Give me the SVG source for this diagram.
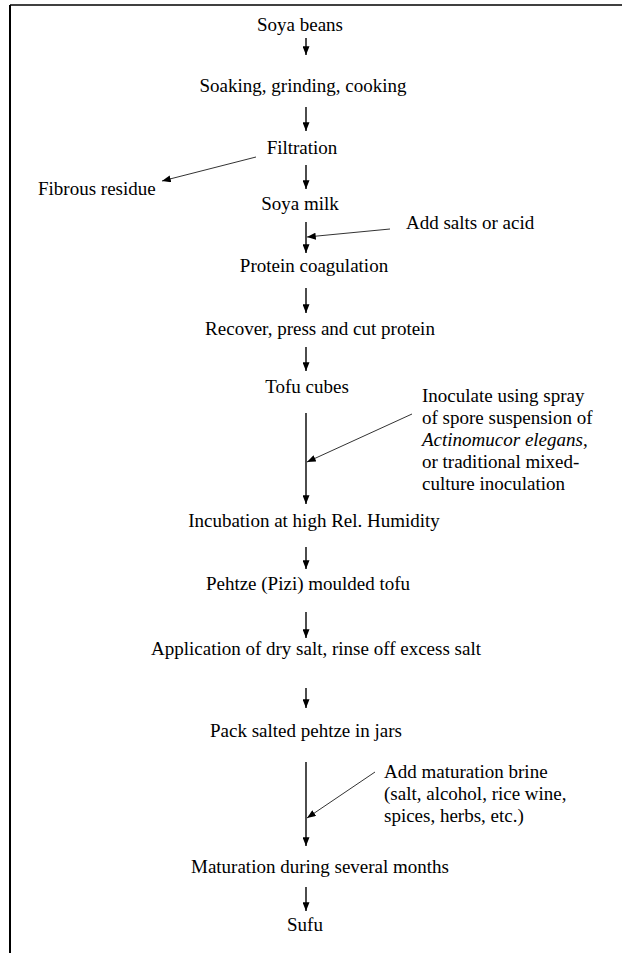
<svg xmlns="http://www.w3.org/2000/svg" width="622" height="953" viewBox="0 0 622 953">
<style>
text { font-family: "Liberation Serif", "Times New Roman", serif; font-size: 19px; fill: #000; }
.c { text-anchor: middle; }
.flow { stroke: #000; stroke-width: 1.4; fill: none; }
.side { stroke: #333; stroke-width: 1; fill: none; }
.frame { stroke: #000; fill: none; }
</style>
<defs>
<marker id="ah" markerWidth="9" markerHeight="7" viewBox="0 0 10 8" refX="10" refY="4" orient="auto" markerUnits="userSpaceOnUse">
<path d="M0,0 L10,4 L0,8 z" fill="#000"/>
</marker>
</defs>
<rect width="622" height="953" fill="#fff"/>
<g id="frame">
<line class="frame" x1="10" y1="5" x2="10" y2="953" stroke-width="2"/>
<line class="frame" x1="10" y1="5" x2="622" y2="5" stroke-width="1.5"/>
</g>
<g id="n1"><text class="c" x="300" y="31">Soya beans</text></g>
<g id="n2"><text class="c" x="303" y="92">Soaking, grinding, cooking</text></g>
<g id="n3"><text class="c" x="302" y="154">Filtration</text></g>
<g id="n4"><text x="38" y="195">Fibrous residue</text></g>
<g id="n5"><text class="c" x="300" y="210">Soya milk</text></g>
<g id="n6"><text x="406" y="229">Add salts or acid</text></g>
<g id="n7"><text class="c" x="314" y="272">Protein coagulation</text></g>
<g id="n8"><text class="c" x="320" y="335">Recover, press and cut protein</text></g>
<g id="n9"><text class="c" x="307" y="393">Tofu cubes</text></g>
<g id="n10">
<text x="422" y="402">Inoculate using spray</text>
<text x="422" y="424">of spore suspension of</text>
<text x="422" y="446"><tspan font-style="italic">Actinomucor elegans</tspan>,</text>
<text x="422" y="468">or traditional mixed-</text>
<text x="422" y="490">culture inoculation</text>
</g>
<g id="n11"><text class="c" x="314" y="527">Incubation at high Rel. Humidity</text></g>
<g id="n12"><text class="c" x="308" y="590">Pehtze (Pizi) moulded tofu</text></g>
<g id="n13"><text class="c" x="316" y="655">Application of dry salt, rinse off excess salt</text></g>
<g id="n14"><text class="c" x="306" y="737">Pack salted pehtze in jars</text></g>
<g id="n15">
<text x="384" y="778">Add maturation brine</text>
<text x="384" y="800">(salt, alcohol, rice wine,</text>
<text x="384" y="822">spices, herbs, etc.)</text>
</g>
<g id="n16"><text class="c" x="320" y="873">Maturation during several months</text></g>
<g id="n17"><text class="c" x="305" y="931">Sufu</text></g>
<g id="connectors">
<line class="flow" x1="306" y1="38" x2="306" y2="55" marker-end="url(#ah)"/>
<line class="flow" x1="306" y1="107" x2="306" y2="131" marker-end="url(#ah)"/>
<line class="side" x1="256" y1="157" x2="162" y2="181" marker-end="url(#ah)"/>
<line class="flow" x1="306" y1="165" x2="306" y2="189" marker-end="url(#ah)"/>
<line class="flow" x1="306" y1="222" x2="306" y2="253" marker-end="url(#ah)"/>
<line class="side" x1="390" y1="229" x2="307" y2="237" marker-end="url(#ah)"/>
<line class="flow" x1="306" y1="288" x2="306" y2="313" marker-end="url(#ah)"/>
<line class="flow" x1="306" y1="347" x2="306" y2="371" marker-end="url(#ah)"/>
<line class="flow" x1="306" y1="413" x2="306" y2="504" marker-end="url(#ah)"/>
<line class="side" x1="412" y1="414" x2="307" y2="462" marker-end="url(#ah)"/>
<line class="flow" x1="306" y1="547" x2="306" y2="569" marker-end="url(#ah)"/>
<line class="flow" x1="306" y1="612" x2="306" y2="638" marker-end="url(#ah)"/>
<line class="flow" x1="306" y1="688" x2="306" y2="708" marker-end="url(#ah)"/>
<line class="flow" x1="306" y1="762" x2="306" y2="846" marker-end="url(#ah)"/>
<line class="side" x1="375" y1="772" x2="307" y2="818" marker-end="url(#ah)"/>
<line class="flow" x1="306" y1="887" x2="306" y2="911" marker-end="url(#ah)"/>
</g>
</svg>
